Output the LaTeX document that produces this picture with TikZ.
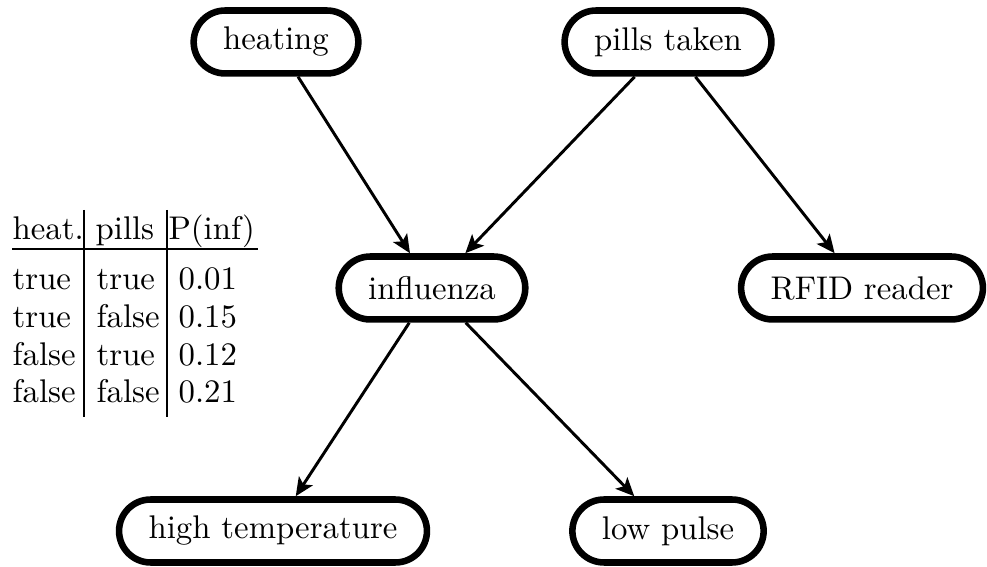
\documentclass[tikz,border=0pt]{standalone}
\usetikzlibrary{arrows.meta}
\begin{document}
\begin{tikzpicture}[x=0.305pt,y=-0.305pt,
  bnode/.style={draw, line width=2pt, rounded corners=9.6pt, minimum height=19.2pt, inner xsep=9pt, inner ysep=0pt, font=\fontsize{10}{12}\selectfont},
  edge/.style={line width=0.9pt, -{Stealth[length=5.6pt,width=5pt,inset=1.3pt]}},
  cell/.style={anchor=base west, inner sep=0pt, font=\fontsize{10}{12}\selectfont},
  rule/.style={line width=0.6pt}]
\useasboundingbox (0,0) rectangle (987,567);
% nodes
\node[bnode] (heating) at (276,42) {heating};
\node[bnode] (pills) at (668,42) {pills taken};
\node[bnode] (influenza) at (432,288) {influenza};
\node[bnode] (rfid) at (862,288) {RFID reader};
\node[bnode] (hightemp) at (273,531) {high temperature};
\node[bnode] (lowpulse) at (668,531) {low pulse};
% edges
\draw[edge] (heating) -- (influenza);
\draw[edge] (pills) -- (influenza);
\draw[edge] (pills) -- (rfid);
\draw[edge] (influenza) -- (hightemp);
\draw[edge] (influenza) -- (lowpulse);
% table
\node[cell] (h1) at (12,240) {heat.};
\node[cell] (h2) at (95,240) {pills};
\node[cell] (h3) at (168,240) {P(inf)};
\node[cell] (a1) at (12,290) {true};
\node[cell] (a2) at (96,290) {true};
\node[cell] (a3) at (178,290) {0.01};
\node[cell] (b1) at (12,328) {true};
\node[cell] (b2) at (96,328) {false};
\node[cell] (b3) at (178,328) {0.15};
\node[cell] (c1) at (12,366) {false};
\node[cell] (c2) at (96,366) {true};
\node[cell] (c3) at (178,366) {0.12};
\node[cell] (d1) at (12,403) {false};
\node[cell] (d2) at (96,403) {false};
\node[cell] (d3) at (178,403) {0.21};
\draw[rule] (12,249) -- (258,249);
\draw[rule] (84,210) -- (84,417);
\draw[rule] (167,210) -- (167,417);
\end{tikzpicture}
\end{document}
